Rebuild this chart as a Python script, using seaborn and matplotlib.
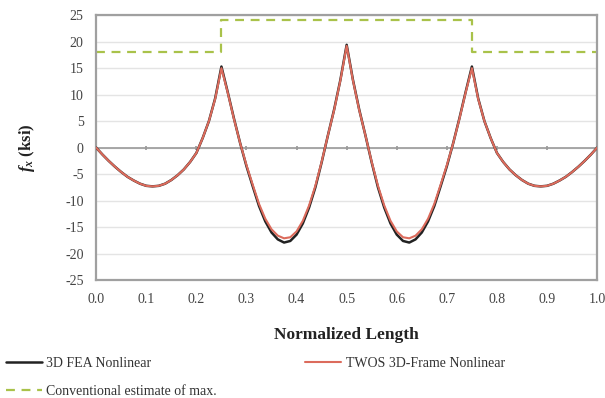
import numpy as np
import pandas as pd
import matplotlib
matplotlib.use("Agg")
import matplotlib.pyplot as plt
import seaborn as sns

# normalized length positions (step 0.0125)
x_pos = [round(i * 0.0125, 4) for i in range(81)]

# 3D FEA Nonlinear stress f_x (ksi)
fea = [0.0, -1.3, -2.5, -3.6, -4.6, -5.5, -6.2, -6.8, -7.2, -7.3,
       -7.2, -6.8, -6.1, -5.2, -4.1, -2.7, -1.0, 1.8, 5.0, 9.3,
       15.3, 10.5, 5.5, 0.8, -3.5, -7.3, -11.0, -13.9, -16.0, -17.3,
       -17.9, -17.6, -16.4, -14.3, -11.3, -7.5, -2.8, 2.3, 7.2, 12.8,
       19.4, 12.8, 7.2, 2.3, -2.8, -7.5, -11.3, -14.3, -16.4, -17.6,
       -17.9, -17.3, -16.0, -13.9, -11.0, -7.3, -3.5, 0.8, 5.5, 10.5,
       15.3, 9.3, 5.0, 1.8, -1.0, -2.7, -4.1, -5.2, -6.1, -6.8,
       -7.2, -7.3, -7.2, -6.8, -6.2, -5.5, -4.6, -3.6, -2.5, -1.3,
       0.0]

# TWOS 3D-Frame Nonlinear
twos = [0.0, -1.3, -2.5, -3.6, -4.6, -5.5, -6.2, -6.8, -7.2, -7.3,
        -7.2, -6.8, -6.1, -5.2, -4.1, -2.7, -1.0, 1.8, 5.0, 9.2,
        15.0, 10.4, 5.4, 0.8, -3.3, -7.0, -10.6, -13.4, -15.4, -16.6,
        -17.1, -16.9, -15.8, -13.8, -10.9, -7.2, -2.7, 2.3, 7.1, 12.7,
        19.2, 12.7, 7.1, 2.3, -2.7, -7.2, -10.9, -13.8, -15.8, -16.9,
        -17.1, -16.6, -15.4, -13.4, -10.6, -7.0, -3.3, 0.8, 5.4, 10.4,
        15.0, 9.2, 5.0, 1.8, -1.0, -2.7, -4.1, -5.2, -6.1, -6.8,
        -7.2, -7.3, -7.2, -6.8, -6.2, -5.5, -4.6, -3.6, -2.5, -1.3,
        0.0]

# conventional estimate of max (step line)
conv_x = [0.0, 0.25, 0.25, 0.75, 0.75, 1.0]
conv_y = [18, 18, 24, 24, 18, 18]

x_ticks = [round(0.1 * i, 1) for i in range(11)]
y_ticks = list(range(-25, 30, 5))

sns.set_theme(style="white")
plt.rcParams["font.family"] = ["Liberation Serif", "DejaVu Serif"]
plt.rcParams["axes.unicode_minus"] = False
plt.rcParams["mathtext.fontset"] = "custom"
plt.rcParams["mathtext.it"] = "Liberation Serif:bold:italic"
plt.rcParams["mathtext.rm"] = "Liberation Serif:bold"

fig = plt.figure(figsize=(6.05, 3.98), dpi=100)
ax = fig.add_axes([0.159, 0.296, 0.828, 0.666])

# gridlines
for yv in y_ticks:
    ax.axhline(yv, color="#e4e4e4", linewidth=1.0, zorder=0)
ax.axhline(0, color="#9a9a9a", linewidth=1.2, zorder=1)

sns.lineplot(x=conv_x, y=conv_y, ax=ax, color="#a9c24a", linewidth=1.6,
             linestyle=(0, (4, 3)), estimator=None, sort=False,
             label="Conventional estimate of max.", zorder=2)
sns.lineplot(x=x_pos, y=fea, ax=ax, color="#222222", linewidth=1.8,
             estimator=None, sort=False, label="3D FEA Nonlinear", zorder=3)
sns.lineplot(x=x_pos, y=twos, ax=ax, color="#dc6b5c", linewidth=1.5,
             estimator=None, sort=False, label="TWOS 3D-Frame Nonlinear", zorder=4)

ax.set_xlim(0, 1.0)
ax.set_ylim(-25, 25)
ax.set_xticks(x_ticks)
ax.set_xticklabels([f"{v:.1f}" for v in x_ticks])
ax.set_yticks(y_ticks)
ax.tick_params(axis="both", labelsize=10, colors="#444444", length=3,
               direction="out", width=1)
ax.tick_params(axis="y", pad=6)
ax.tick_params(axis="x", length=0, pad=9)

for sp in ax.spines.values():
    sp.set_color("#a0a0a0")
    sp.set_linewidth(1.6)

# small tick marks along the zero line
sec = ax.secondary_xaxis(0.5)
sec.set_xticks(x_ticks)
sec.tick_params(axis="x", length=3, direction="inout", colors="#9a9a9a",
                labelbottom=False, labeltop=False)
sec.spines["bottom"].set_visible(False)
sec.spines["top"].set_visible(False)

ax.set_xlabel("Normalized Length", fontsize=12.5, fontweight="bold",
              color="#222222", labelpad=15)
ax.set_ylabel(r"$f_x$ (ksi)", fontsize=12, fontweight="bold",
              color="#222222", labelpad=20)

handles, labels = ax.get_legend_handles_labels()
order = [labels.index("3D FEA Nonlinear"),
         labels.index("Conventional estimate of max."),
         labels.index("TWOS 3D-Frame Nonlinear")]
ax.get_legend().remove()
fig.legend([handles[i] for i in order], [labels[i] for i in order],
           loc="upper left", bbox_to_anchor=(0.0, 0.118), ncol=2,
           frameon=False, fontsize=10, handlelength=2.6, handletextpad=0.3,
           columnspacing=6.4, labelspacing=1.1, borderaxespad=0,
           labelcolor="#333333")

fig.savefig("out.png", dpi=100)
